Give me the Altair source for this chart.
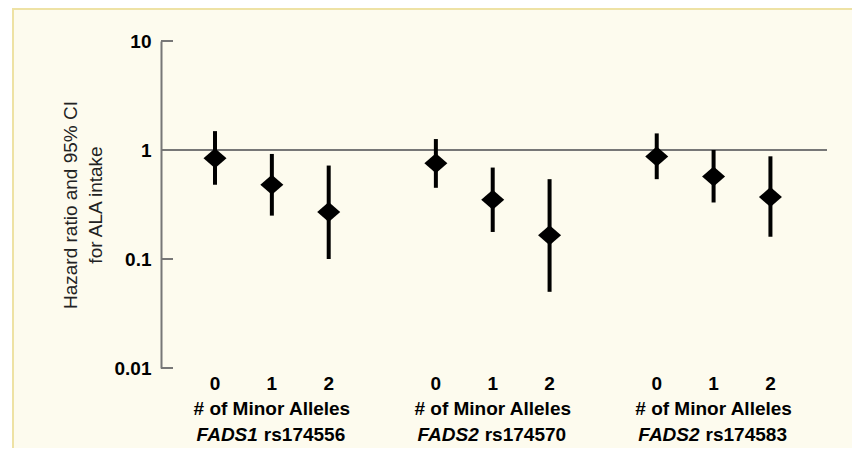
import altair as alt
import pandas as pd

# ---- data ----
genes = ["FADS1", "FADS2", "FADS2"]
snps = ["rs174556", "rs174570", "rs174583"]
alleles = [0, 1, 2]
hr = [0.84, 0.48, 0.27, 0.755, 0.35, 0.165, 0.87, 0.57, 0.37]
ci_low = [0.48, 0.25, 0.10, 0.45, 0.177, 0.05, 0.54, 0.33, 0.16]
ci_high = [1.49, 0.92, 0.72, 1.26, 0.69, 0.54, 1.42, 1.0, 0.875]
y_ticks = [0.01, 0.1, 1, 10]
ref_value = [1]
axis_caption = "# of Minor Alleles"
y_title = ["Hazard ratio and 95% CI", "for ALA intake"]

# ---- layout ----
GAP = 3.885  # distance between group starts, in allele units
W, H = 666, 327
FONT = "Liberation Sans"

rows = []
for g in range(len(genes)):
    for a in alleles:
        i = g * len(alleles) + a
        rows.append(dict(pos=g * GAP + a, allele=str(a), hr=hr[i], lo=ci_low[i], hi=ci_high[i]))
df = pd.DataFrame(rows)
grp = pd.DataFrame(dict(pos=[g * GAP + 1 for g in range(len(genes))],
                        gene=genes, snp=snps, cap=[axis_caption] * len(genes)))
ticks_df = pd.DataFrame(dict(v=y_ticks))
ref_df = pd.DataFrame(dict(v=ref_value))

xs = alt.Scale(domain=[-0.95, 10.765], nice=False, zero=False)
ys = alt.Scale(type="log", domain=[0.01, 10], nice=False)
X = alt.X("pos:Q", scale=xs, axis=None)

y_axis = alt.Axis(
    values=y_ticks, format="~g", grid=False, ticks=False, zindex=1,
    domainColor="#777777", domainWidth=2,
    labelFont=FONT, labelFontSize=19, labelFontWeight="bold", labelColor="black",
    labelPadding=10,
    title=y_title, titleFont=FONT, titleFontSize=19, titleFontWeight="normal",
    titleColor="#222222", titleAngle=-90, titleX=-85, titleY=H / 2,
    titleAlign="center", titleBaseline="alphabetic", titleLineHeight=25,
)

bg = alt.Chart(pd.DataFrame({"a": [0]})).mark_rect(
    fill="#FDFBEE", stroke="#EEE2A4", strokeWidth=2
).encode(x=alt.value(13 - 161), x2=alt.value(1000), y=alt.value(8 - 41 + 1), y2=alt.value(600))

ref = alt.Chart(ref_df).mark_rule(color="#777777", strokeWidth=2).encode(
    y=alt.Y("v:Q", scale=ys, axis=y_axis), x=alt.value(0), x2=alt.value(W))

tick_marks = alt.Chart(ticks_df).mark_rule(color="#777777", strokeWidth=2).encode(
    y=alt.Y("v:Q", scale=ys, axis=y_axis), x=alt.value(0), x2=alt.value(12))

bars = alt.Chart(df).mark_rule(color="black", strokeWidth=4).encode(
    x=X, y=alt.Y("lo:Q", scale=ys, axis=y_axis), y2="hi:Q")

points = alt.Chart(df).mark_point(
    shape="M-1,0L0,-0.87L1,0L0,0.87Z", filled=True, fill="black", opacity=1,
    size=530, strokeWidth=0
).encode(x=X, y=alt.Y("hr:Q", scale=ys, axis=y_axis))

allele_txt = alt.Chart(df).mark_text(
    font=FONT, fontSize=19, fontWeight="bold", color="black", baseline="alphabetic", align="center"
).encode(x=X, y=alt.value(349), text="allele:N")

cap_txt = alt.Chart(grp).mark_text(
    font=FONT, fontSize=19, fontWeight="bold", color="black", baseline="alphabetic", align="center"
).encode(x=X, y=alt.value(374), text="cap:N")

gene_txt = alt.Chart(grp).mark_text(
    font=FONT, fontSize=19, fontWeight="bold", fontStyle="italic", color="black",
    baseline="alphabetic", align="right", dx=-14
).encode(x=X, y=alt.value(400), text="gene:N")

snp_txt = alt.Chart(grp).mark_text(
    font=FONT, fontSize=19, fontWeight="bold", color="black",
    baseline="alphabetic", align="left", dx=-8
).encode(x=X, y=alt.value(400), text="snp:N")

chart = alt.layer(
    bg, ref, tick_marks, bars, points, allele_txt, cap_txt, gene_txt, snp_txt
).properties(
    width=W, height=H,
    autosize=alt.AutoSizeParams(type="none"),
    padding={"left": 153, "top": 33, "right": 25, "bottom": 80},
    background="white",
).configure_view(stroke=None)

chart.save("out.html", embed_options={"renderer": "svg", "actions": False})
